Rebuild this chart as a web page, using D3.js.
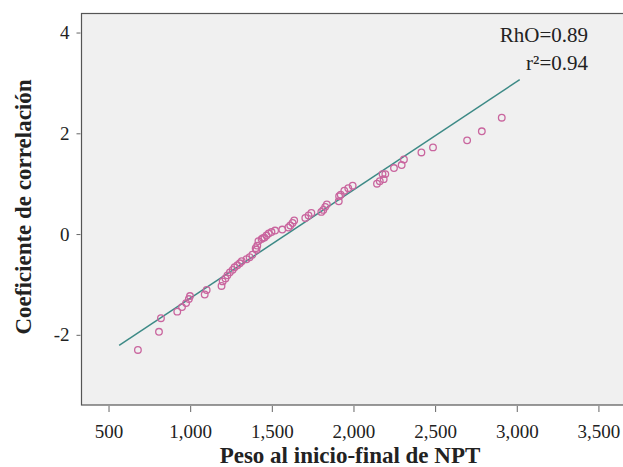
<!DOCTYPE html>
<html><head><meta charset="utf-8">
<script src="https://cdn.jsdelivr.net/npm/d3@7"></script>
<style>body{margin:0;background:#fff}svg{display:block}</style>
</head><body><svg id="c" width="623" height="467"></svg>
<script>
const weight = [680,809,821,921,950,975,992,999,1089,1101,1192,1199,1216,1228,1243,1260,1272,1289,1304,1316,1345,1364,1381,1401,1406,1411,1418,1437,1445,1455,1467,1481,1498,1520,1564,1601,1613,1627,1637,1705,1725,1742,1803,1815,1827,1837,1910,1912,1922,1944,1968,1995,2144,2161,2185,2178,2195,2248,2295,2309,2416,2487,2696,2786,2908];
const coef = [-2.30,-1.94,-1.67,-1.54,-1.45,-1.37,-1.29,-1.23,-1.20,-1.11,-1.03,-0.94,-0.88,-0.82,-0.76,-0.71,-0.66,-0.62,-0.58,-0.54,-0.50,-0.46,-0.41,-0.28,-0.31,-0.23,-0.14,-0.10,-0.08,-0.07,-0.03,0.01,0.04,0.07,0.09,0.13,0.17,0.22,0.27,0.32,0.37,0.42,0.44,0.48,0.54,0.59,0.65,0.75,0.78,0.86,0.91,0.96,1.00,1.05,1.09,1.19,1.19,1.31,1.37,1.48,1.62,1.72,1.86,2.04,2.31];
const fitX = [565, 3018];
const fitY = [-2.21, 3.065];
const xTicks = [500,1000,1500,2000,2500,3000,3500];
const yTicks = [-2,0,2,4];
const annot = ["RhO=0.89", "r²=0.94"];

const svg = d3.select("#c");
const L = 81.5, T = 13.5, B = 405, R = 627;
const x = d3.scaleLinear().domain([334.5, 3675]).range([L, R]);
const y = d3.scaleLinear().domain([-3.393, 4.378]).range([B, T]);

svg.append("rect").attr("x", L).attr("y", T).attr("width", R - L).attr("height", B - T)
  .attr("fill", "#f0f0f0").attr("stroke", "#555").attr("stroke-width", 1.2);

const font = "'Liberation Serif', 'DejaVu Serif', serif";

const xa = svg.append("g").attr("transform", `translate(0,${B + 1})`)
  .call(d3.axisBottom(x).tickValues(xTicks).tickFormat(d3.format(",")).tickSize(6).tickPadding(13));
xa.select(".domain").remove();
xa.selectAll("line").attr("stroke", "#666");
xa.selectAll("text").attr("font-family", font).attr("font-size", 19).attr("fill", "#222");

const ya = svg.append("g").attr("transform", `translate(${L - 1},0)`)
  .call(d3.axisLeft(y).tickValues(yTicks).tickFormat(d => String(d)).tickSize(4).tickPadding(7));
ya.select(".domain").remove();
ya.selectAll("line").attr("stroke", "#666");
ya.selectAll("text").attr("font-family", font).attr("font-size", 19).attr("fill", "#222");

svg.append("line").attr("x1", x(fitX[0])).attr("y1", y(fitY[0])).attr("x2", x(fitX[1])).attr("y2", y(fitY[1]))
  .attr("stroke", "#3d8a86").attr("stroke-width", 1.5);

svg.append("g").selectAll("circle").data(weight.map((w, i) => [w, coef[i]])).join("circle")
  .attr("cx", d => x(d[0])).attr("cy", d => y(d[1])).attr("r", 3.3)
  .attr("fill", "none").attr("stroke", "#c9659e").attr("stroke-width", 1.3);

svg.append("text").attr("x", 588).attr("y", 42).attr("text-anchor", "end")
  .attr("font-family", font).attr("font-size", 21).attr("fill", "#222").text(annot[0]);
svg.append("text").attr("x", 588).attr("y", 70).attr("text-anchor", "end")
  .attr("font-family", font).attr("font-size", 21).attr("fill", "#222").text(annot[1]);

svg.append("text").attr("x", 350).attr("y", 463).attr("text-anchor", "middle")
  .attr("font-family", font).attr("font-size", 23).attr("font-weight", "bold").attr("fill", "#222")
  .text("Peso al inicio-final de NPT");
svg.append("text").attr("transform", "translate(31,207) rotate(-90)").attr("text-anchor", "middle")
  .attr("font-family", font).attr("font-size", 23).attr("font-weight", "bold").attr("fill", "#222")
  .text("Coeficiente de correlación");
</script></body></html>
